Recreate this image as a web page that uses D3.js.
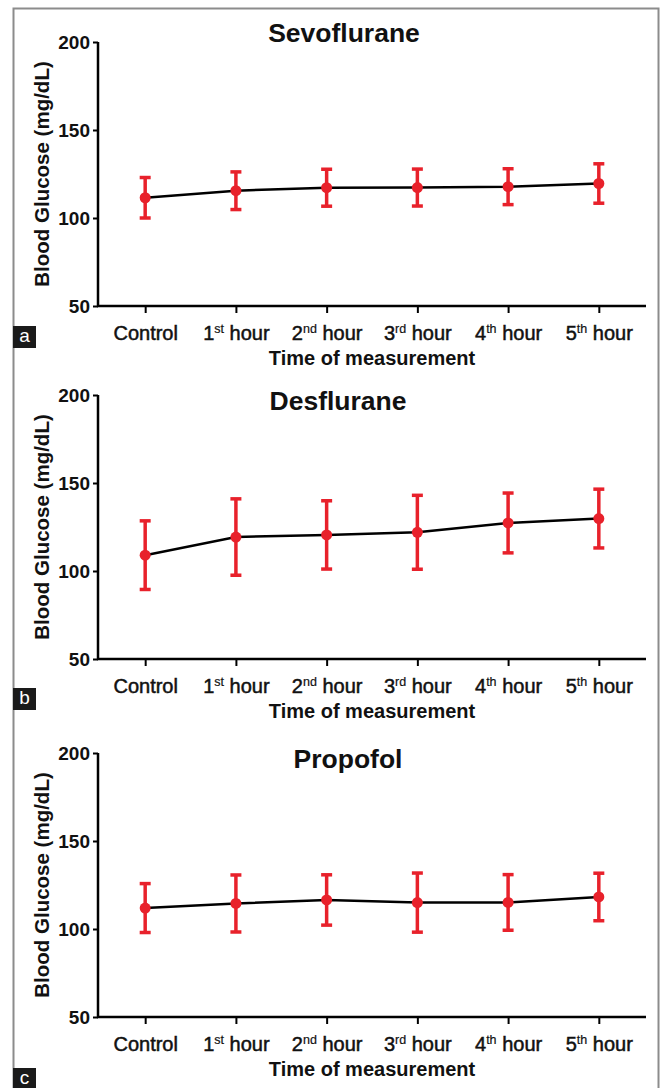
<!DOCTYPE html>
<html>
<head>
<meta charset="utf-8">
<script src="https://cdn.jsdelivr.net/npm/d3@7"></script>
<style>
  body { margin: 0; background: #fff; }
  svg { display: block; font-family: "Liberation Sans", Arial, sans-serif; }
</style>
</head>
<body>
<svg id="chart" width="661" height="1088"></svg>
<script>
"use strict";

// categories on the x-axis
const categories = [ 'Control', '1st hour', '2nd hour', '3rd hour', '4th hour', '5th hour' ];

// y-axis ticks
const yTicks = [ 50, 100, 150, 200 ];

// mean and SD (mg/dL)
const sevoMean = [ 111.5, 115.5, 117.2, 117.3, 117.8, 119.6 ];
const sevoSD   = [ 11.5, 10.7, 10.5, 10.5, 10.2, 11.2 ];

const desMean  = [ 109.0, 119.3, 120.5, 122.0, 127.3, 129.8 ];
const desSD    = [ 19.5, 21.7, 19.4, 21.0, 17.0, 16.7 ];

const propMean = [ 111.9, 114.5, 116.5, 115.0, 115.1, 118.2 ];
const propSD   = [ 13.9, 16.2, 14.3, 16.8, 15.8, 13.5 ];

const titles  = [ 'Sevoflurane', 'Desflurane', 'Propofol' ];
const letters = [ 'a', 'b', 'c' ];

// layout of the three panels
const panels = [
  { mean: sevoMean, sd: sevoSD, top: 42,  letterY: 326,  titleX: 344, titleY: 42 },
  { mean: desMean,  sd: desSD,  top: 395, letterY: 688,  titleX: 338, titleY: 410 },
  { mean: propMean, sd: propSD, top: 753, letterY: 1068, titleX: 348, titleY: 768 },
];
const plotH = 264,
      left  = 98,
      right = 646,
      red   = '#e8212b';

const svg = d3.select( '#chart' );

// outer frame
svg.append( 'rect' )
   .attr( 'x', 13.5 ).attr( 'y', 8.5 )
   .attr( 'width', 645 ).attr( 'height', 1100 )
   .attr( 'fill', 'none' )
   .attr( 'stroke', '#8c8c8c' )
   .attr( 'stroke-width', 2 );

const x = d3.scalePoint()
            .domain( categories )
            .range( [ left, right ] )
            .padding( 0.52 );

panels.forEach( (p, k) => {

  const y = d3.scaleLinear()
              .domain( [ 50, 200 ] )
              .range( [ p.top + plotH, p.top ] );

  const g = svg.append( 'g' );

  // y axis
  const yAxis = g.append( 'g' )
                 .attr( 'transform', `translate(${left},0)` )
                 .call( d3.axisLeft( y ).tickValues( yTicks ).tickSize( 5 ).tickPadding( 3 ) );
  yAxis.select( '.domain' ).attr( 'stroke-width', 2.5 ).attr( 'd', `M0,${p.top}V${p.top + plotH}` );
  yAxis.selectAll( '.tick line' ).attr( 'stroke-width', 2 );
  yAxis.selectAll( '.tick text' )
       .attr( 'font-size', 19 ).attr( 'font-weight', 'bold' ).attr( 'fill', '#111' );

  // x axis
  const xAxis = g.append( 'g' )
                 .attr( 'transform', `translate(0,${p.top + plotH})` )
                 .call( d3.axisBottom( x ).tickSize( 7 ).tickPadding( 7 ) );
  xAxis.select( '.domain' ).attr( 'stroke-width', 2.5 ).attr( 'd', `M${left - 1},0H${right}` );
  xAxis.selectAll( '.tick line' ).attr( 'stroke-width', 2 );
  xAxis.selectAll( '.tick text' )
       .attr( 'font-size', 20 ).attr( 'fill', '#111' )
       .attr( 'stroke', '#111' ).attr( 'stroke-width', 0.5 )
       .attr( 'dy', '1.0em' )
       .each( function( d ){
         const m = /^(\d)(st|nd|rd|th) (.*)$/.exec( d );
         if( !m ) { return; }
         const t = d3.select( this ).text( null );
         t.append( 'tspan' ).text( m[1] );
         t.append( 'tspan' ).attr( 'font-size', 12.5 ).attr( 'dy', -7 ).attr( 'stroke-width', 0.2 ).text( m[2] );
         t.append( 'tspan' ).attr( 'dy', 7 ).text( '\u00a0' + m[3] );
       });

  // axis titles
  g.append( 'text' )
   .attr( 'transform', `translate(41,${p.top + plotH / 2}) rotate(-90)` )
   .attr( 'text-anchor', 'middle' )
   .attr( 'dominant-baseline', 'central' )
   .attr( 'font-size', 20.5 ).attr( 'font-weight', 'bold' ).attr( 'fill', '#111' )
   .text( 'Blood Glucose (mg/dL)' );

  g.append( 'text' )
   .attr( 'x', (left + right) / 2 )
   .attr( 'y', p.top + plotH + 59 )
   .attr( 'text-anchor', 'middle' )
   .attr( 'font-size', 20 ).attr( 'font-weight', 'bold' ).attr( 'fill', '#111' )
   .text( 'Time of measurement' );

  // panel title
  g.append( 'text' )
   .attr( 'x', p.titleX )
   .attr( 'y', p.titleY )
   .attr( 'text-anchor', 'middle' )
   .attr( 'font-size', 26.5 ).attr( 'font-weight', 'bold' ).attr( 'fill', '#111' )
   .text( titles[k] );

  // panel letter
  g.append( 'rect' )
   .attr( 'x', 13 ).attr( 'y', p.letterY )
   .attr( 'width', 23 ).attr( 'height', 22 )
   .attr( 'fill', '#1a1a1a' );
  g.append( 'text' )
   .attr( 'x', 24.5 ).attr( 'y', p.letterY + 16 )
   .attr( 'text-anchor', 'middle' )
   .attr( 'font-size', 19 ).attr( 'fill', '#fff' )
   .text( letters[k] );

  const rows = categories.map( (c, i) => ({ c, m: p.mean[i], s: p.sd[i] }) );

  // mean line
  g.append( 'path' )
   .datum( rows )
   .attr( 'fill', 'none' )
   .attr( 'stroke', '#000' )
   .attr( 'stroke-width', 2.5 )
   .attr( 'd', d3.line().x( d => x( d.c ) ).y( d => y( d.m ) ) );

  // error bars
  const eb = g.append( 'g' )
              .attr( 'stroke', red )
              .attr( 'fill', 'none' )
              .selectAll( 'g' )
              .data( rows )
              .join( 'g' );
  eb.append( 'line' )
    .attr( 'x1', d => x( d.c ) ).attr( 'x2', d => x( d.c ) )
    .attr( 'y1', d => y( d.m + d.s ) ).attr( 'y2', d => y( d.m - d.s ) )
    .attr( 'stroke-width', 3.5 );
  eb.selectAll( '.cap' )
    .data( d => [ [ d.c, d.m + d.s ], [ d.c, d.m - d.s ] ] )
    .join( 'line' )
    .attr( 'class', 'cap' )
    .attr( 'x1', d => x( d[0] ) - 5.5 ).attr( 'x2', d => x( d[0] ) + 5.5 )
    .attr( 'y1', d => y( d[1] ) ).attr( 'y2', d => y( d[1] ) )
    .attr( 'stroke-width', 3.5 );

  // markers
  g.append( 'g' )
   .selectAll( 'circle' )
   .data( rows )
   .join( 'circle' )
   .attr( 'cx', d => x( d.c ) )
   .attr( 'cy', d => y( d.m ) )
   .attr( 'r', 5.5 )
   .attr( 'fill', red );

});
</script>
</body>
</html>
